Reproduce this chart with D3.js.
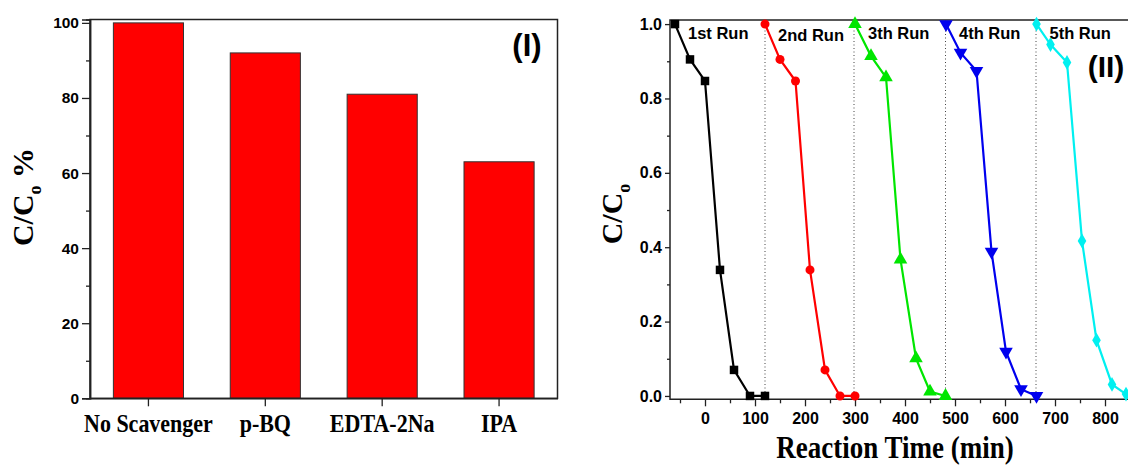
<!DOCTYPE html>
<html>
<head>
<meta charset="utf-8">
<script src="https://cdn.jsdelivr.net/npm/d3@7"></script>
<style>
  body { margin: 0; background: #fff; }
  svg { display: block; }
  .num text { font-family: "Liberation Sans", Arial, sans-serif; font-weight: bold; fill: #000; }
  .serif { font-family: "Liberation Serif", "Times New Roman", serif; font-weight: bold; fill: #000; }
  .sans { font-family: "Liberation Sans", Arial, sans-serif; font-weight: bold; fill: #000; }
</style>
</head>
<body>
<svg width="1128" height="466"></svg>
<script>
// panel (I): scavenger test
var scavengers = ["No Scavenger", "p-BQ", "EDTA-2Na", "IPA"];
var ratioPct = [100, 92, 81, 63];
var pctTicks = [0, 20, 40, 60, 80, 100];
var pctMinor = [10, 30, 50, 70, 90];

// panel (II): five recycling runs
var runNames = ["1st Run", "2nd Run", "3th Run", "4th Run", "5th Run"];
var runColors = ["#000000", "#ff0000", "#00e600", "#0000ee", "#00f0f0"];
var run1Time = [-60, -30, 0, 30, 58, 90, 120];
var run1Ratio = [1.0, 0.905, 0.847, 0.339, 0.07, 0.0, 0.0];
var run2Time = [120, 150, 181, 210, 240, 270, 300];
var run2Ratio = [1.0, 0.905, 0.847, 0.339, 0.07, 0.0, 0.0];
var run3Time = [300, 332, 362, 391, 422, 450, 481];
var run3Ratio = [1.0, 0.914, 0.857, 0.367, 0.101, 0.012, 0.0];
var run4Time = [482, 511, 543, 573, 602, 632, 663];
var run4Ratio = [1.0, 0.923, 0.874, 0.388, 0.119, 0.018, 0.0];
var run5Time = [663, 691, 724, 754, 783, 814, 842];
var run5Ratio = [1.0, 0.945, 0.897, 0.417, 0.15, 0.031, 0.005];
var runSplits = [120, 298, 481, 662];
var timeTicks = [0, 100, 200, 300, 400, 500, 600, 700, 800];
var timeMinor = [-50, 50, 150, 250, 350, 450, 550, 650, 750, 850];
var ratioTicks = [0, 0.2, 0.4, 0.6, 0.8, 1.0];
var ratioMinor = [0.1, 0.3, 0.5, 0.7, 0.9];

// serif labels in the original are a bit taller than wide
var stretch = 1.14;

var svg = d3.select("svg");
svg.append("rect").attr("width", 1128).attr("height", 466).attr("fill", "#fff");

function drawPanelOne() {
  var x = d3.scaleBand().domain(scavengers).range([90, 557.5])
    .paddingInner(0.4).paddingOuter(0.2);
  var y = d3.scaleLinear().domain([0, 100.9]).range([398.3, 19.5]);

  svg.selectAll(".bar")
    .data(scavengers)
    .enter().append("rect")
      .attr("class", "bar")
      .attr("x", function(d) { return x(d); })
      .attr("y", function(d, i) { return y(ratioPct[i]); })
      .attr("width", x.bandwidth())
      .attr("height", function(d, i) { return y(0) - y(ratioPct[i]); })
      .attr("fill", "#ff0000")
      .attr("stroke", "#333")
      .attr("stroke-width", 1);

  // frame
  svg.append("rect")
    .attr("x", x.range()[0]).attr("y", y.range()[1])
    .attr("width", x.range()[1] - x.range()[0])
    .attr("height", y.range()[0] - y.range()[1])
    .attr("fill", "none").attr("stroke", "#222").attr("stroke-width", 1.5);

  var ya = svg.append("g").attr("class", "num")
    .attr("transform", "translate(" + x.range()[0] + ",0)")
    .call(d3.axisLeft(y).tickValues(pctTicks).tickSize(8).tickPadding(3));
  ya.selectAll("text").style("font-size", "15.5px");
  svg.append("g")
    .attr("transform", "translate(" + x.range()[0] + ",0)")
    .call(d3.axisLeft(y).tickValues(pctMinor).tickSize(4).tickFormat(""));

  var xa = svg.append("g")
    .attr("transform", "translate(0," + y(0) + ")")
    .call(d3.axisBottom(x).tickSize(8).tickPadding(5.7).tickSizeOuter(0));
  xa.selectAll("text").attr("class", "serif").style("font-size", "22px")
    .attr("transform", "scale(1," + stretch + ")");

  svg.selectAll(".domain").attr("stroke", "#222").attr("stroke-width", 1.5);
  svg.selectAll(".tick line").attr("stroke", "#222").attr("stroke-width", 1.3);

  var lab = svg.append("text").attr("class", "serif")
    .attr("transform", "translate(33,197) rotate(-90)")
    .attr("text-anchor", "middle")
    .style("font-size", "30px");
  lab.append("tspan").text("C/C");
  lab.append("tspan").attr("dy", 8).style("font-size", "18px").text("o");
  lab.append("tspan").attr("dy", -8).text(" %");

  svg.append("text").attr("class", "sans")
    .attr("x", 527).attr("y", 56)
    .attr("text-anchor", "middle")
    .style("font-size", "31px")
    .text("(I)");
}

function drawPanelTwo() {
  var x = d3.scaleLinear().domain([-70, 900]).range([670, 1155]);
  var y = d3.scaleLinear().domain([-0.009, 1.011]).range([399.3, 20]);

  var g = svg.append("g");

  // frame (right edge runs off the page)
  g.append("path")
    .attr("d", "M" + x(900) + "," + y(1.011) + "H" + x(-70) + "V" + y(-0.009) + "H" + x(900))
    .attr("fill", "none").attr("stroke", "#222").attr("stroke-width", 1.5);

  g.selectAll(".split")
    .data(runSplits)
    .enter().append("line")
      .attr("x1", function(d) { return x(d); })
      .attr("x2", function(d) { return x(d); })
      .attr("y1", y(1.011)).attr("y2", y(-0.009))
      .attr("stroke", "#444").attr("stroke-width", 1)
      .attr("stroke-dasharray", "1,2.5");

  var ya = g.append("g").attr("class", "num")
    .attr("transform", "translate(" + x(-70) + ",0)")
    .call(d3.axisLeft(y).tickValues(ratioTicks).tickSize(5).tickPadding(3).tickFormat(d3.format(".1f")));
  ya.selectAll("text").style("font-size", "16px");
  g.append("g")
    .attr("transform", "translate(" + x(-70) + ",0)")
    .call(d3.axisLeft(y).tickValues(ratioMinor).tickSize(3).tickFormat(""));

  var xa = g.append("g").attr("class", "num")
    .attr("transform", "translate(0," + y(-0.009) + ")")
    .call(d3.axisBottom(x).tickValues(timeTicks).tickSize(7).tickPadding(6).tickSizeOuter(0));
  xa.selectAll("text").style("font-size", "16px");
  g.append("g")
    .attr("transform", "translate(0," + y(-0.009) + ")")
    .call(d3.axisBottom(x).tickValues(timeMinor).tickSize(4).tickFormat("").tickSizeOuter(0));

  g.selectAll(".domain").remove();
  g.selectAll(".tick line").attr("stroke", "#222").attr("stroke-width", 1.3);

  var times = [run1Time, run2Time, run3Time, run4Time, run5Time];
  var ratios = [run1Ratio, run2Ratio, run3Ratio, run4Ratio, run5Ratio];
  var shapes = [
    { type: d3.symbolSquare, size: 72, rot: 0 },
    { type: d3.symbolCircle, size: 64, rot: 0 },
    { type: d3.symbolTriangle, size: 80, rot: 0 },
    { type: d3.symbolTriangle, size: 80, rot: 180 },
    { type: d3.symbolDiamond, size: 64, rot: 0 }
  ];
  var line = d3.line()
    .x(function(d) { return x(d[0]); })
    .y(function(d) { return y(d[1]); });

  for (var r = 0; r < runNames.length; r++) {
    var pts = times[r].map(function(t, i) { return [t, ratios[r][i]]; });
    var col = runColors[r];
    var sh = shapes[r];

    g.append("path")
      .datum(pts)
      .attr("d", line)
      .attr("fill", "none")
      .attr("stroke", col)
      .attr("stroke-width", 2.2);

    g.selectAll(".pt" + r)
      .data(pts)
      .enter().append("path")
        .attr("class", "pt" + r)
        .attr("d", d3.symbol().type(sh.type).size(sh.size))
        .attr("transform", function(d) {
          return "translate(" + x(d[0]) + "," + y(d[1]) + ") rotate(" + sh.rot + ")";
        })
        .attr("fill", col);

    g.append("text").attr("class", "sans")
      .attr("x", x(times[r][0]) + 13)
      .attr("y", r == 1 ? 41 : 38.5)
      .style("font-size", "16.5px")
      .text(runNames[r]);
  }

  var lab = svg.append("text").attr("class", "serif")
    .attr("transform", "translate(622,214) rotate(-90)")
    .attr("text-anchor", "middle")
    .style("font-size", "30px");
  lab.append("tspan").text("C/C");
  lab.append("tspan").attr("dy", 8).style("font-size", "18px").text("o");

  svg.append("text").attr("class", "serif")
    .attr("transform", "translate(895,458) scale(1," + stretch + ")")
    .attr("text-anchor", "middle")
    .style("font-size", "27px")
    .text("Reaction Time (min)");

  svg.append("text").attr("class", "sans")
    .attr("x", 1106).attr("y", 77)
    .attr("text-anchor", "middle")
    .style("font-size", "30px")
    .text("(II)");
}

drawPanelOne();
drawPanelTwo();
</script>
</body>
</html>
